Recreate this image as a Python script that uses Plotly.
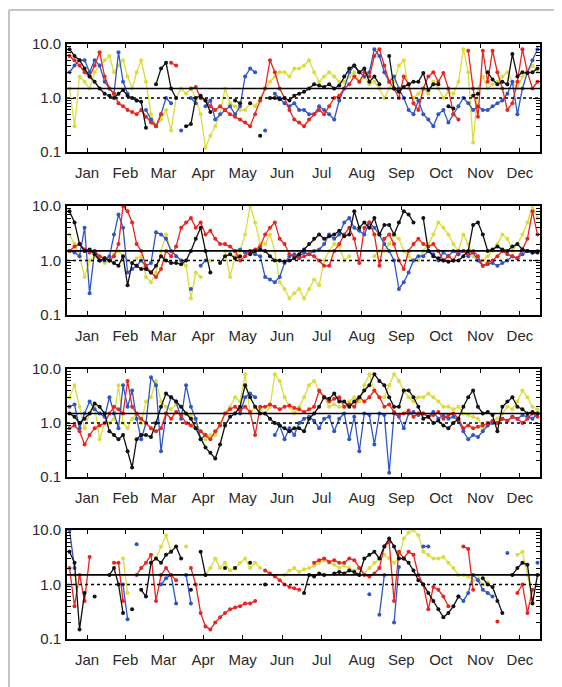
import plotly.graph_objects as go

MONTHS = ["Jan", "Feb", "Mar", "Apr", "May", "Jun", "Jul", "Aug", "Sep", "Oct", "Nov", "Dec"]
MONTH_START = [0, 31, 59, 90, 120, 151, 181, 212, 243, 273, 304, 334, 365]
MONTH_MID = [15.5, 45, 74.5, 105, 135.5, 166, 196.5, 227.5, 258, 288.5, 319, 349.5]
Y_TICKS = [0.1, 1.0, 10.0]
Y_TICKTEXT = ["0.1", "1.0", "10.0"]
REF_SOLID = 1.5
REF_DOTTED = 1.0

# ---------------- panel 1 ----------------
P1_BLACK = [
    [8, 6, 5, 3.5, 2.5, 2, 1.5, 1.2],
    [1.1, 1.0, 1.2, 1.4, 1.1, 1.0, 0.9, 0.85],
    [0.28, None, 1.8, 3.5, 4.5, 1.5, 1.0, None],
    [0.3, 0.33, 1.0, 1.1, 0.9, 0.55, None, None],
    [None, None, 0.9, 0.8, None, 0.8, None, 0.2],
    [None, 1.0, 1.0, 0.95, 1.0, 0.9, 1.1, 1.2],
    [1.3, 1.5, 1.8, 1.7, 1.6, 1.8, 1.5, 1.7],
    [2.5, 3.5, 4, 3, 3.5, 2, 2.5, 1.8],
    [None, 6, 1.5, 1.3, 1.6, 1.8, 2.0, 2.0],
    [2.9, 1.4, 1.8, 1.8, None, 0.7, 0.64, None],
    [None, None, 1.1, 1.2, None, 3, 2.2, 1.8],
    [2.0, 1.8, 6.5, 2.5, 3, 2.9, 3.0, 3.5],
]
P1_RED = [
    [6, 5, 4, 3, 2.5, 4, 7, 2.5],
    [1.5, 1.2, 0.8, 0.7, 0.6, 0.55, 0.5, 0.6],
    [0.45, 0.35, 0.3, 0.5, None, 4.5, 4, None],
    [None, 1.5, 1.6, 1.0, 0.9, 0.7, 0.6, 0.7],
    [0.6, 0.5, 0.45, 0.4, 0.35, 0.3, 0.5, 0.9],
    [1.5, 5, 3, 1.5, 1.0, 0.6, 0.4, 0.35],
    [0.3, 0.4, 0.5, 0.6, 0.5, 0.7, 1.0, 1.1],
    [1.5, 1.8, 2.5, 2, 3, 2.5, 6, 8],
    [4, 2, 1.5, 1.0, 2.5, 1.8, 0.8, 0.6],
    [1.5, 2.5, 3, 2, 2.9, 1.5, 0.5, 0.4],
    [None, 7.5, 1.5, 0.45, 7.5, 2, 7.5, 3],
    [1.5, 0.6, 0.8, 2.0, 8, 3, 1.5, 2],
]
P1_BLUE = [
    [3, 4, 5, 5, 3, 5, 4, 2],
    [1.5, 1.2, 7, 2, 1.2, None, 0.9, None],
    [0.6, 0.4, 0.3, 0.5, 1.0, 0.8, None, 0.25],
    [None, 1.0, 0.8, None, 0.7, 0.9, 0.4, 0.5],
    [0.6, 0.7, 0.5, 0.7, 2.5, 3.5, 3, None],
    [0.25, None, 1.2, 1.0, 0.8, 0.7, 0.8, 0.6],
    [0.6, 0.5, 0.5, 0.7, 0.6, 0.5, 0.4, 0.9],
    [1.5, 3, 4, 3, 2.5, 3, 8, 6],
    [3, 2, 2.5, 1.5, 1.0, 0.6, 0.5, 0.9],
    [0.5, 0.4, 0.3, 0.5, 0.6, 0.35, 0.5, 0.7],
    [1.0, 0.8, 0.6, 0.7, 0.6, 0.6, 0.7, 0.8],
    [0.9, 1.2, 2, 0.5, 1.5, 3, 5, 8],
]
P1_YELLOW = [
    [1.5, 0.3, 2.5, 2, 1.5, 3, 4, 5],
    [6, 3, 4, 5, 2.5, 1.5, 3, 5],
    [2, 0.5, 0.3, 0.4, 0.6, 0.25, 1.0, 1.5],
    [1.2, 1.5, 1.0, 0.5, 0.12, 0.2, 0.3, 0.5],
    [1.5, 0.8, 0.7, 0.6, 0.6, 0.8, 0.7, 1.0],
    [1.5, 2, 2.5, 3, 3, 2.5, 3.5, 3.5],
    [4, 5, 3, 2, 2.5, 3, 2.5, 2],
    [2, 2.5, 3, 2, 2.5, 1.8, 2, 1.5],
    [1.0, 1.5, 2, 4, 5, 1.5, 1.0, 1.2],
    [1.5, 1.2, 2, 1.5, 1.0, 1.3, 1.2, 2],
    [8, 3, 0.15, 1.5, 2.5, 1.5, 1.8, 2],
    [2.5, 3, 2, 1.5, 2.5, 3, 4, 3],
]

# ---------------- panel 2 ----------------
P2_BLACK = [
    [8, 5, 2, 1.5, 1.6, 1.3, 1.0, 1.1],
    [1.0, 0.9, 0.8, 1.2, 0.35, 0.9, 0.8, 0.7],
    [0.7, 0.6, 0.8, 1.2, 1.0, 0.9, 0.9, 0.85],
    [1.0, 1.5, 2.5, 4, 1.5, 0.6, None, 0.9],
    [1.2, 1.3, 1.1, 1.2, None, 1.3, 1.5, 1.6],
    [1.5, 1.2, 1.0, 1.0, 0.95, 1.0, 1.1, 1.3],
    [1.6, 2, 2.5, 3, 2.5, 2.8, 3, 3.5],
    [2.8, 3, 8, 4, 5, 4, 6, 3],
    [4.5, 4.5, 3, 5, 8, 7, 5, None],
    [6, 1.5, 1.2, 1.1, 1.0, 0.95, 1.0, 1.0],
    [1.2, 1.5, 4.5, 5, 3, 1.5, 1.6, 1.8],
    [1.6, 1.5, 1.8, 2, 1.6, 1.5, 1.4, 1.4],
]
P2_RED = [
    [1.5, 1.8, 2, 1.6, 1.4, 1.5, 1.2, 1.1],
    [1.0, 1.2, 2, 10, 8, 5, 2, 1.5],
    [0.8, 0.6, 0.5, 0.7, 1.5, 1.2, 1.8, 4],
    [5, 6, 4, 5, 3, 3.5, 2.5, 2],
    [2, 1.8, 1.5, 1.0, 1.2, 1.5, 1.6, 1.8],
    [3, 4, 5, 2.5, 2, 1.3, 1.2, 1.1],
    [1.2, 1.3, 1.2, 1.0, 0.8, 0.8, 1.5, 2],
    [3, 4, 2.5, 0.9, 4, 5, 3, 0.8],
    [2.5, 3, 2, 1.0, 0.7, 1.5, 2, 2.5],
    [2, 1.8, 2, 1.5, 1.0, 1.2, 1.0, 1.5],
    [1.5, 1.3, 1.5, 1.2, 0.8, 0.9, 1.0, 1.2],
    [1.5, 1.3, 1.2, 1.1, 1.6, 2.5, 8, 3],
]
P2_BLUE = [
    [1.5, 1.4, 1.2, 4, 0.25, 1.5, 1.0, 1.0],
    [1.2, 3, 7, 4, 0.6, 0.7, 0.8, 1.0],
    [0.8, 0.9, 3.3, 3, 2.5, 1.5, 1.2, 1.0],
    [None, 0.3, None, 0.8, 1.0, None, None, None],
    [None, None, 1.5, 1.6, 1.4, 1.5, 1.3, 1.2],
    [0.5, 0.45, 0.4, 0.5, 0.9, 1.2, 1.3, 1.2],
    [1.4, 1.3, 1.5, 1.6, 2, 3, 2.5, 3],
    [5, 6, 4, 3.5, 3, 5, 4, 3],
    [2, 1.5, 1.0, 0.3, 0.4, 0.6, 1.0, 1.2],
    [1.2, 1.5, 1.3, 1.0, 1.4, 1.2, 1.5, 1.3],
    [1.5, 1.2, 1.4, 1.0, 0.8, 0.85, 0.9, 0.8],
    [0.9, 1.0, 1.2, 1.1, 1.3, 1.5, 1.4, 1.5],
]
P2_YELLOW = [
    [3, 2, 1.2, 0.5, 1.0, 1.2, 1.0, 0.9],
    [1.0, 1.3, 1.5, 1.2, 1.0, 0.9, 1.1, 1.2],
    [0.5, 0.4, 0.6, 1.5, 3, 1.5, 1.2, 1.0],
    [0.8, 0.2, 0.6, 0.5, None, 1.0, None, None],
    [1.5, 0.5, 1.2, 1.5, 3, 10, 5, 2],
    [2, 3, 1.5, 0.4, 0.3, 0.2, 0.25, 0.3],
    [0.2, 0.3, 0.45, 0.35, 1.0, 1.5, 2, 1.8],
    [1.0, 1.2, None, None, None, None, 1.2, 1.5],
    [1.5, 2, 3, 2.5, 1.5, 1.2, 1.0, 1.0],
    [1.5, 2, 3, 5, 4, 3, 2, 1.5],
    [3, 2, 1.2, 1.0, 1.0, 1.2, 1.5, 2],
    [3, 2.5, 1.5, 2, 3, 5, 10, 6],
]

# ---------------- panel 3 ----------------
P3_BLACK = [
    [1.5, 1.3, 1.0, 1.2, 1.5, 2.3, 2, 1.5],
    [0.7, 0.6, 0.5, 0.6, 0.3, 0.15, 0.5, 0.6],
    [0.6, 0.55, 1.0, 2, 3.5, 3, 2.5, 2],
    [1.5, 1.2, 0.8, 0.5, 0.35, 0.28, 0.22, 0.4],
    [0.9, 1.3, 1.5, 2, 5, 3, 2, 1.5],
    [1.5, 1.2, 1.0, 0.9, 0.8, 0.7, 0.8, 0.8],
    [0.7, 1.2, 1.5, 2, 3, 2.8, 3.5, 2.5],
    [2.5, 2, 2.5, 3, 4, 5, 8, 6],
    [5, 3, 2, 2, 4, 4, 3, 2],
    [1.2, 1.3, 1.0, 1.1, 0.9, 0.8, 1.0, 1.2],
    [2, 3, 4, 2, 1.5, 1.6, 1.4, 0.7],
    [2, 2.5, 3, 2, 1.8, 1.5, 1.6, 1.5],
]
P3_RED = [
    [0.8, 0.9, 0.7, 0.4, 0.6, 0.8, 0.9, 1.0],
    [1.5, 2, 1.8, 1.5, 6, 2, 1.5, 1.2],
    [1.0, 0.8, 0.7, 0.8, 1.5, 1.2, 1.6, 1.4],
    [1.0, 0.9, 0.8, 0.7, 0.6, 0.5, 0.7, 0.9],
    [1.5, 1.8, 2, 1.7, 2, 1.6, 0.6, 2],
    [2, 2.2, 2, 1.8, 2, 2.1, 1.9, 1.8],
    [1.6, 1.8, 2, 4, 3, 2.5, 2.8, 3],
    [2, 2.2, 2, 3, 2.5, 3, 4, 3],
    [2, 2.2, 1.6, 1.4, 1.5, 1.7, 1.3, 1.5],
    [1.5, 1.3, 1.4, 1.6, 1.2, 1.4, 1.5, 1.2],
    [0.8, 0.9, 0.8, 0.85, 0.9, 1.0, 1.1, 1.0],
    [1.2, 1.1, 1.3, 1.2, 1.0, 1.2, 1.5, 1.3],
]
P3_BLUE = [
    [2, 2.2, 0.8, 1.5, 2.5, 1.8, 1.5, 1.3],
    [3, 1.5, 0.8, 5, 2, 4, 1.2, 0.5],
    [1.0, 7, 5, 0.3, 1.5, 3, 2.5, 1.2],
    [5, 2, 1.2, 0.5, 0.6, None, None, None],
    [None, None, None, 1.5, 3, 3.5, 3, None],
    [None, None, 0.6, 0.9, 0.5, 0.8, 0.6, 1.0],
    [1.2, 1.3, 1.1, 0.8, 1.2, 1.3, 0.7, 1.2],
    [1.5, 0.5, 1.3, 0.3, 1.5, 1.4, 0.4, 1.5],
    [1.4, 0.12, 1.5, 1.3, 0.8, 1.5, 1.6, 1.4],
    [1.5, 1.3, 1.6, 1.2, 1.4, 1.2, 1.3, 1.1],
    [0.7, 0.5, 0.6, 0.55, 0.7, 0.9, 1.0, 1.0],
    [1.2, 1.1, 1.3, 1.2, 1.4, 1.3, 1.2, 1.5],
]
P3_YELLOW = [
    [3, 5, 2, 0.8, 1.5, 2, 0.5, 1.0],
    [1.0, 1.2, 5, 1.0, 0.8, 1.2, 1.5, 1.0],
    [2.5, 3, 6, 2.5, 2, 1.8, 2.2, 2],
    [1.5, 1.4, 1.0, 0.7, 0.5, 0.6, 0.6, 1.0],
    [1.5, 2, 3, 2.5, 8, 1.5, 2, 1.8],
    [1.5, 2, 8, 6, 3, 2, 1.5, 2],
    [3, 5, 6, 4, 3, 2, 2.2, 2],
    [2, 2.5, 3, 2.5, 5, 8, 4, 3],
    [3, 5, 8, 6, 4, 3, 2.5, 3],
    [3, 3.5, 3, 2.5, 2, 2, 1.8, 2],
    [1.5, 1.4, 1.3, 1.2, 0.8, 0.9, 1.0, 1.2],
    [1.5, 2, 1.8, 2.5, 4, 3, 2, 1.8],
]

# ---------------- panel 4 ----------------
P4_BLACK = [
    [4, 2.5, 0.15, 0.7, None, 0.6, None, None],
    [1.5, 2, 1.0, 0.3, None, 0.35, None, 0.8],
    [0.6, 2.5, 3, 2.5, 3.5, 4, 5, 3],
    [None, 0.8, None, 4, 1.5, None, None, None],
    [2, None, 2, None, None, 2.5, None, None],
    [1.0, None, None, None, None, None, None, None],
    [0.7, 1.5, 1.4, 1.6, 1.5, None, 1.6, 1.7],
    [1.6, 1.8, 1.7, 1.5, 3, 3.5, 4, 3],
    [5, 7, 5, 3, 3, 2.5, 1.8, 1.2],
    [1.0, 0.7, 0.5, 0.35, 0.25, 0.3, 0.4, 0.6],
    [None, None, None, None, 1.3, 1.0, 0.9, 0.5],
    [0.3, None, 1.5, 2, 2.5, 2.3, 0.45, 1.5],
]
P4_RED = [
    [2, 0.4, 1.5, 0.5, 3.2, None, None, None],
    [None, 2.5, 2.5, 0.5, None, None, 1.5, 2],
    [2.5, 3.5, 0.5, 1.5, 2, 1.5, 1.2, None],
    [None, 2, 1.0, 0.3, 0.17, 0.15, 0.2, 0.25],
    [0.3, 0.35, 0.38, 0.4, 0.45, 0.45, 0.5, None],
    [1.8, 1.6, 1.4, 1.2, 1.0, 0.9, 0.85, 0.8],
    [None, None, 2.5, 2.8, 3, 2.6, 2.8, 2.5],
    [2.5, 3, 2.8, 2, 1.5, 1.4, 1.6, 2],
    [5, 6, 0.5, 4, 3, 4, 3.5, 1.5],
    [1.0, 0.35, 0.9, 0.8, 0.6, 0.4, None, None],
    [5, 4.5, 0.8, None, None, None, None, 0.21],
    [None, None, None, 0.7, 1.0, 0.3, 0.8, None],
]
P4_BLUE = [
    [10, 2, None, None, None, None, None, None],
    [None, None, None, 1.0, 0.23, None, 5.5, None],
    [None, None, None, 1.0, 1.3, 1.5, 0.45, None],
    [1.5, 0.45, None, None, None, None, None, None],
    [None, None, None, None, None, None, None, None],
    [None, None, None, None, None, None, None, None],
    [None, None, None, None, None, None, None, None],
    [None, None, None, None, None, 0.66, None, 0.28],
    [1.5, None, 0.2, 2.1, None, None, None, None],
    [5, 5, None, None, None, None, None, 0.6],
    [0.5, 0.7, 1.5, 1.2, 0.8, 0.7, 0.6, None],
    [None, 3.8, None, None, None, None, None, 2.5],
]
P4_YELLOW = [
    [None, 1.5, None, None, None, None, None, None],
    [None, None, None, 3, 0.7, None, None, None],
    [None, None, 3, 5, 8, 4, None, None],
    [5, None, None, None, 1.5, 2, 3, 2],
    [2.5, 1.8, 2, 2.5, 3, 2, 2.5, 2],
    [None, None, None, None, 1.5, 1.8, 2, 1.7],
    [1.9, 2, 2.2, 2.5, 2.8, 2.5, 2.3, 2],
    [2.2, 2, 1.8, 2, 1.6, 2, 2.5, 3],
    [3.5, 3, 2.5, 3, 7, 9, 10, 8],
    [4, 3.5, 3, 3, 3.2, 2.5, 2, 1.5],
    [1.5, 1.4, 1.2, 1.3, 1.0, 1.1, None, None],
    [None, None, None, 3.5, 4, 1.5, 0.5, None],
]

PANELS = [
    (P1_YELLOW, P1_BLUE, P1_RED, P1_BLACK),
    (P2_YELLOW, P2_BLUE, P2_RED, P2_BLACK),
    (P3_YELLOW, P3_BLUE, P3_RED, P3_BLACK),
    (P4_YELLOW, P4_BLUE, P4_RED, P4_BLACK),
]
COLORS = ["#dcdc3c", "#2f56c6", "#e8251e", "#111111"]

# target pixel layout in the 562 x 687 window; the page body adds an 8px offset
OFF = 8
W, H = 562 - OFF, 687 - OFF
X0, X1 = 67 - OFF, 540 - OFF
PANEL_PX = [(44 - OFF, 152 - OFF), (206 - OFF, 315 - OFF),
            (369 - OFF, 477 - OFF), (530 - OFF, 639 - OFF)]


def month_series(monthly):
    xs, ys = [], []
    for m, vals in enumerate(monthly):
        a, b = MONTH_START[m], MONTH_START[m + 1]
        n = len(vals)
        for k, v in enumerate(vals):
            xs.append(a + (k + 0.5) * (b - a) / n)
            ys.append(v)
    return xs, ys


fig = go.Figure()
FONT = dict(family="Liberation Sans, Arial, sans-serif", size=15, color="#2a2a2a")

minor_vals = [0.2, 0.3, 0.4, 0.5, 0.6, 0.7, 0.8, 0.9, 2, 3, 4, 5, 6, 7, 8, 9]

for p, series in enumerate(PANELS):
    sfx = "" if p == 0 else str(p + 1)
    for col, monthly in zip(COLORS, series):
        xs, ys = month_series(monthly)
        fig.add_trace(go.Scatter(
            x=xs, y=ys, mode="lines+markers",
            line=dict(color=col, width=1.3),
            marker=dict(color=col, size=4),
            xaxis="x" + sfx, yaxis="y" + sfx, showlegend=False,
            hoverinfo="skip"))
    top, bot = PANEL_PX[p]
    fig.layout["xaxis" + sfx] = dict(
        domain=[X0 / W, X1 / W], range=[0, 365], anchor="y" + sfx,
        tickvals=MONTH_MID, ticktext=MONTHS, ticks="inside", ticklen=4,
        tickcolor="black", tickwidth=1, showline=True, linecolor="black",
        linewidth=1.6, mirror="ticks", showgrid=False, zeroline=False,
        tickfont=FONT, ticklabelstandoff=6, automargin=False, fixedrange=True)
    fig.layout["yaxis" + sfx] = dict(
        domain=[1 - bot / H, 1 - top / H], type="log", range=[-1, 1],
        anchor="x" + sfx, tickvals=Y_TICKS, ticktext=Y_TICKTEXT,
        ticks="inside", ticklen=7, tickcolor="black", tickwidth=1,
        showline=True, linecolor="black", linewidth=1.6, mirror="ticks",
        showgrid=False, zeroline=False, tickfont=FONT, ticklabelstandoff=1,
        automargin=False, fixedrange=True,
        minor=dict(tickvals=minor_vals, ticks="inside", ticklen=4,
                   tickcolor="black", showgrid=False))
    xr = "x" + sfx + " domain"
    yr = "y" + sfx
    fig.add_shape(type="line", xref=xr, yref=yr, x0=0, x1=1,
                  y0=REF_SOLID, y1=REF_SOLID, line=dict(color="black", width=1.6))
    fig.add_shape(type="line", xref=xr, yref=yr, x0=0, x1=1,
                  y0=REF_DOTTED, y1=REF_DOTTED, line=dict(color="black", width=1.3, dash="dot"))

# light grey frame (top and left edges)
fig.add_shape(type="line", xref="paper", yref="paper", x0=1 / W, x1=(557 - OFF) / W,
              y0=1 - (10 - OFF) / H, y1=1 - (10 - OFF) / H, line=dict(color="#c4c4c4", width=2))
fig.add_shape(type="line", xref="paper", yref="paper", x0=1 / W, x1=1 / W,
              y0=1 - (10 - OFF) / H, y1=0, line=dict(color="#c4c4c4", width=2))

fig.update_layout(width=W, height=H, margin=dict(l=0, r=0, t=0, b=0),
                  paper_bgcolor="white", plot_bgcolor="white", showlegend=False)

fig.write_html("out.html")
